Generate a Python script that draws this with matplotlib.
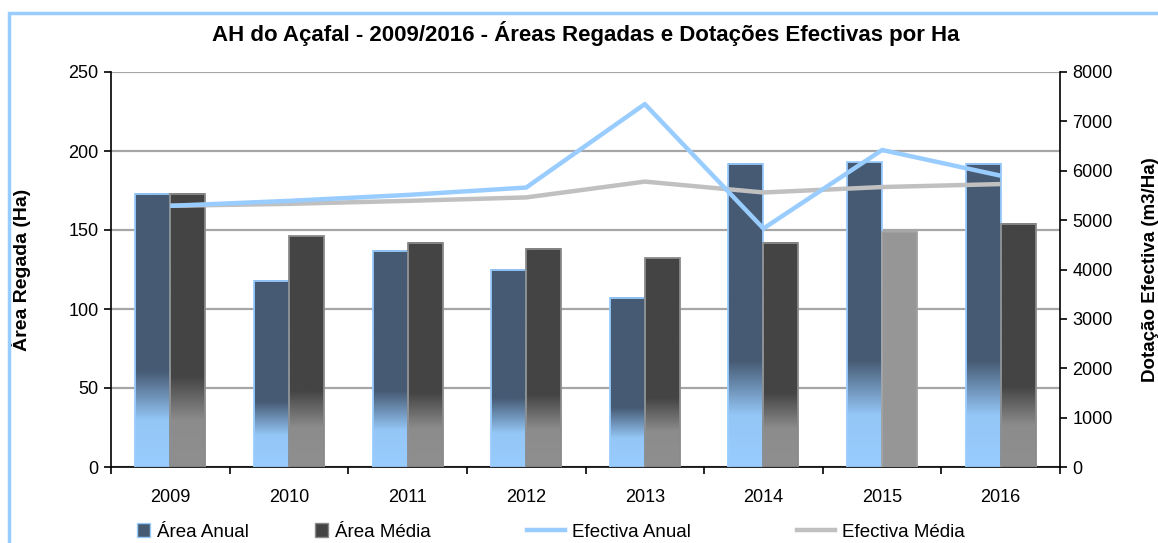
import matplotlib
matplotlib.use("Agg")
import matplotlib.pyplot as plt
import numpy as np
from matplotlib.colors import LinearSegmentedColormap
from matplotlib.patches import Rectangle
from matplotlib.lines import Line2D
from matplotlib.patches import Patch

plt.rcParams['font.family'] = ['Liberation Sans', 'DejaVu Sans']

years = ['2009', '2010', '2011', '2012', '2013', '2014', '2015', '2016']
area_anual = [173, 118, 137, 125, 107, 192, 193, 192]
area_media = [173, 146, 142, 138, 132, 142, 149, 154]
efectiva_anual = [5290, 5390, 5510, 5660, 7350, 4830, 6420, 5900]
efectiva_media = [5290, 5330, 5390, 5460, 5780, 5560, 5670, 5730]
media_gradient = [True, True, True, True, True, True, False, True]

W, H = 1158, 543
fig = plt.figure(figsize=(W / 100, H / 100), dpi=100)
fig.patch.set_facecolor('white')

ax = fig.add_axes([111 / W, 1 - 467 / H, (1060 - 111) / W, (467 - 72) / H])
ax2 = ax.twinx()

x = np.arange(len(years))
bw = 0.295

cmap_anual = LinearSegmentedColormap.from_list(
    'anual', [(0, '#99ccff'), (0.17, '#94c6f6'), (0.35, '#465a73'), (1, '#465a73')])
cmap_media = LinearSegmentedColormap.from_list(
    'media', [(0, '#8f8f8f'), (0.17, '#8c8c8c'), (0.33, '#444444'), (1, '#444444')])

grad = np.linspace(0, 1, 256).reshape(-1, 1)

bars_a = ax.bar(x - bw / 2, area_anual, bw, facecolor='none', edgecolor='#99ccff',
                linewidth=1.3, zorder=3)
bars_m = ax.bar(x + bw / 2, area_media, bw, facecolor='none', edgecolor='#8a8a8a',
                linewidth=1.3, zorder=3)

for p in bars_a:
    x0, w, h = p.get_x(), p.get_width(), p.get_height()
    ax.imshow(grad, cmap=cmap_anual, origin='lower', aspect='auto',
              extent=(x0, x0 + w, 0, h), zorder=2, interpolation='bilinear')
for p, g in zip(bars_m, media_gradient):
    x0, w, h = p.get_x(), p.get_width(), p.get_height()
    if g:
        ax.imshow(grad, cmap=cmap_media, origin='lower', aspect='auto',
                  extent=(x0, x0 + w, 0, h), zorder=2, interpolation='bilinear')
    else:
        ax.add_patch(Rectangle((x0, 0), w, h, facecolor='#969696', edgecolor='none', zorder=2))
        p.set_edgecolor('#a0a0a0')

ax.set_xlim(-0.5, len(years) - 0.5)
ax.set_ylim(0, 250)
ax.set_yticks([0, 50, 100, 150, 200, 250])
ax.yaxis.grid(True, color='#a6a6a6', linewidth=1.6)
ax.set_axisbelow(True)
ax.set_xticks(x)
ax.set_xticklabels(years, fontsize=13)
ax.set_xticks(np.arange(-0.5, len(years), 1), minor=True)
ax.tick_params(axis='x', which='major', length=0, pad=16)
ax.tick_params(axis='x', which='minor', length=5, width=1.2, direction='out')
ax.tick_params(axis='y', length=5, width=1.2, direction='out', labelsize=13, pad=4)
ax.set_ylabel('Área Regada (Ha)', fontsize=14, fontweight='bold', labelpad=27)

ax2.plot(x, efectiva_media, color='#c0c0c0', linewidth=3.2, zorder=4, solid_capstyle='butt')
ax2.plot(x, efectiva_anual, color='#99ccff', linewidth=3.2, zorder=5, solid_capstyle='butt')
ax2.set_ylim(0, 8000)
ax2.set_yticks(np.arange(0, 8001, 1000))
ax2.tick_params(axis='y', length=5, width=1.2, direction='out', labelsize=13, pad=4)
ax2.set_ylabel('Dotação Efectiva (m3/Ha)', fontsize=13.5, fontweight='bold', labelpad=21)

for a in (ax, ax2):
    a.spines['top'].set_visible(False)
    for s in ('left', 'right', 'bottom'):
        a.spines[s].set_linewidth(1.2)
        a.spines[s].set_color('black')
ax.spines['right'].set_visible(False)
ax2.spines['left'].set_visible(False)
ax2.spines['bottom'].set_visible(False)

fig.text(586 / W, 1 - 33 / H, 'AH do Açafal - 2009/2016 - Áreas Regadas e Dotações Efectivas por Ha',
         ha='center', va='center', fontsize=16, fontweight='bold')

# outer frame
fig.patches.append(Rectangle((9 / W, -0.1), 1.2, 1 - 13 / H + 0.1, transform=fig.transFigure,
                             facecolor='none', edgecolor='#99ccff', linewidth=2.5, zorder=0))

handles = [
    (Patch(facecolor='#465a73', edgecolor='#99ccff'), 'Área Anual', 137),
    (Patch(facecolor='#444444', edgecolor='#8a8a8a'), 'Área Média', 315),
    (Line2D([], [], color='#99ccff', linewidth=3.2), 'Efectiva Anual', 527),
    (Line2D([], [], color='#c0c0c0', linewidth=3.2), 'Efectiva Média', 797),
]
for h, lab, px in handles:
    if isinstance(h, Patch):
        hl, hh = 0.7, 0.7
    else:
        hl, hh = 2.05, 0.7
    fig.legend([h], [lab], loc='center left', bbox_to_anchor=(px / W, 1 - 532 / H),
               frameon=False, fontsize=13.5, handlelength=hl, handleheight=hh,
               handletextpad=0.35, borderpad=0, borderaxespad=0)

fig.savefig('out.png', dpi=100)
